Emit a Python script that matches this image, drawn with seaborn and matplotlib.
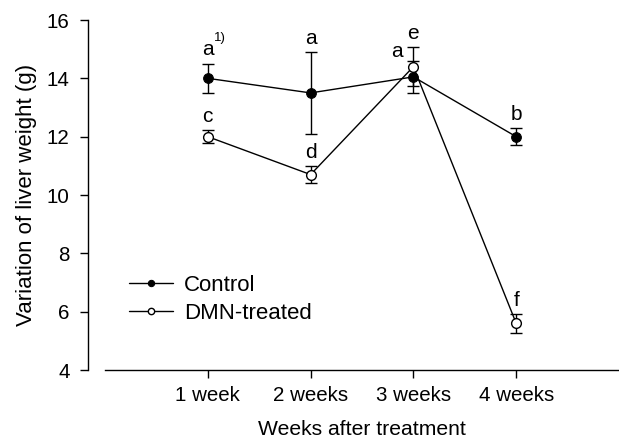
import numpy as np
import pandas as pd
import matplotlib
matplotlib.use("Agg")
import matplotlib.pyplot as plt
import seaborn as sns

# ---- data ----
weeks = ["1 week", "2 weeks", "3 weeks", "4 weeks"]
control_mean = [14.0, 13.5, 14.05, 12.0]
control_err = [0.5, 1.4, 0.55, 0.3]
dmn_mean = [12.0, 10.7, 14.4, 5.6]
dmn_err = [0.23, 0.3, 0.67, 0.32]
control_letters = ["a", "a", "a", "b"]
dmn_letters = ["c", "d", "e", "f"]
y_ticks = [4, 6, 8, 10, 12, 14, 16]

sns.set_style("ticks")
plt.rcParams["font.family"] = ["Liberation Sans", "DejaVu Sans"]
plt.rcParams["text.color"] = "black"
plt.rcParams["axes.labelcolor"] = "black"
plt.rcParams["xtick.color"] = "black"
plt.rcParams["ytick.color"] = "black"
plt.rcParams["axes.edgecolor"] = "black"

pos = np.arange(1, len(weeks) + 1)
df_c = pd.DataFrame({"pos": pos, "value": control_mean})
df_d = pd.DataFrame({"pos": pos, "value": dmn_mean})

fig = plt.figure(figsize=(6.19, 4.38), dpi=100)
ax = fig.add_axes([105 / 619, 1 - 370 / 438, (619 - 105) / 619, 350 / 438])

ax.errorbar(pos, control_mean, yerr=control_err, fmt="none", ecolor="black",
            elinewidth=1.0, capsize=4.5, capthick=1.0, zorder=2)
ax.errorbar(pos, dmn_mean, yerr=dmn_err, fmt="none", ecolor="black",
            elinewidth=1.0, capsize=4.5, capthick=1.0, zorder=2)

sns.lineplot(data=df_c, x="pos", y="value", ax=ax, color="black", lw=1.0,
             marker="o", markersize=7, markerfacecolor="black",
             markeredgecolor="black", label="Control", zorder=3)
sns.lineplot(data=df_d, x="pos", y="value", ax=ax, color="black", lw=1.0,
             marker="o", markersize=7, markerfacecolor="white",
             markeredgecolor="black", markeredgewidth=1.0,
             label="DMN-treated", zorder=4)

# letters above error bars
fs = 15
for i, (m, e, t) in enumerate(zip(control_mean, control_err, control_letters)):
    if i == 2:
        ax.annotate(t, (pos[i], m + e), xytext=(-12, 2.5), textcoords="offset points",
                    ha="center", va="baseline", fontsize=fs, color="black")
    else:
        ax.annotate(t, (pos[i], m + e), xytext=(0, 6), textcoords="offset points",
                    ha="center", va="baseline", fontsize=fs, color="black")
for i, (m, e, t) in enumerate(zip(dmn_mean, dmn_err, dmn_letters)):
    ax.annotate(t, (pos[i], m + e), xytext=(0, 6), textcoords="offset points",
                ha="center", va="baseline", fontsize=fs, color="black")
ax.annotate("1)", (pos[0], control_mean[0] + control_err[0]), xytext=(4.6, 16.3),
            textcoords="offset points", ha="left", va="baseline", fontsize=9.5,
            color="black")

ax.set_xlim(0, 5)
ax.set_ylim(4, 16)
ax.set_xticks(pos)
ax.set_xticklabels(weeks)
ax.set_yticks(y_ticks)
ax.set_xlabel("Weeks after treatment", fontsize=15.2, labelpad=11)
ax.set_ylabel("Variation of liver weight (g)", fontsize=16, labelpad=7)
ax.tick_params(axis="both", direction="out", length=5.5, width=1.0,
               labelsize=14.8, color="black", labelcolor="black")
ax.tick_params(axis="y", pad=8)
ax.tick_params(axis="x", pad=6)

sns.despine(ax=ax)
ax.spines["left"].set_position(("outward", 12))
for s in ("left", "bottom"):
    ax.spines[s].set_linewidth(1.0)
    ax.spines[s].set_color("black")

leg = ax.legend(loc="center left", bbox_to_anchor=((129 - 105) / 514, (370 - 299.5) / 350),
                frameon=False, fontsize=16, handlelength=1.97, handletextpad=0.5,
                labelspacing=0.3, borderpad=0, borderaxespad=0, markerscale=0.65)
for t in leg.get_texts():
    t.set_color("black")

fig.savefig("out.png", dpi=100)
